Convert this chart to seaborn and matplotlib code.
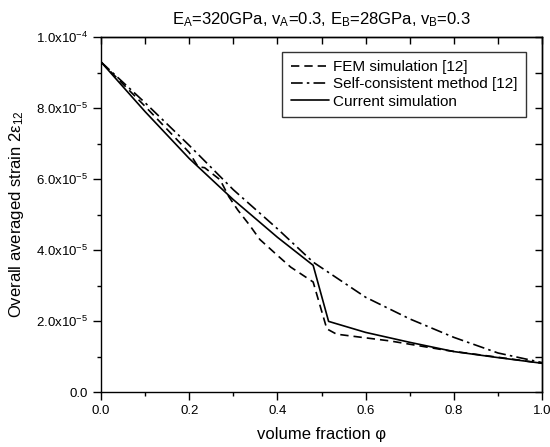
import matplotlib

matplotlib.use("Agg")

import matplotlib.pyplot as plt
import pandas as pd
import seaborn as sns
from matplotlib.ticker import FuncFormatter, MultipleLocator, NullFormatter

# values in units of 1e-6
FEM_X = [0.0, 0.1, 0.2, 0.22, 0.235, 0.27, 0.29, 0.31, 0.337, 0.36, 0.4, 0.43, 0.481,
         0.512, 0.534, 0.655, 0.79, 0.9, 1.0]
FEM_Y = [93.0, 80.5, 67.5, 63.5, 63.2, 59.8, 55.0, 51.3, 47.0, 43.0, 38.5, 35.2, 31.0,
         17.8, 16.3, 14.4, 11.6, 9.8, 8.1]

SC_X = [0.0, 0.1, 0.2, 0.3, 0.4, 0.481, 0.6, 0.7, 0.8, 0.9, 1.0]
SC_Y = [93.0, 81.5, 69.5, 57.0, 46.0, 36.6, 26.7, 20.6, 15.4, 11.0, 8.3]

CUR_X = [0.0, 0.1, 0.2, 0.3, 0.4, 0.481, 0.516, 0.6, 0.7, 0.8, 0.9, 1.0]
CUR_Y = [93.0, 79.0, 65.8, 54.2, 43.6, 35.7, 19.9, 16.8, 14.0, 11.4, 9.7, 8.1]

SERIES = [
    ("FEM simulation [12]", FEM_X, FEM_Y, (0, (5, 3))),
    ("Self-consistent method [12]", SC_X, SC_Y, (0, (7, 2.5, 1.5, 2.5))),
    ("Current simulation", CUR_X, CUR_Y, "-"),
]


def sci_fmt(v, _pos):
    if abs(v) < 1e-12:
        return "0.0"
    exp = int(f"{v:e}".split("e")[1])
    mant = v / 10 ** exp
    return f"{mant:.1f}x10$^{{{exp}}}$"


def main() -> None:
    sns.set_theme(style="ticks")
    plt.rcParams.update(
        {
            "font.family": ["Liberation Sans", "DejaVu Sans"],
            "mathtext.default": "regular",
            "font.size": 9.5,
            "axes.linewidth": 1.0,
            "axes.edgecolor": "black",
            "text.color": "black",
            "axes.labelcolor": "black",
            "xtick.color": "black",
            "ytick.color": "black",
        }
    )

    fig = plt.figure(figsize=(5.5, 4.47), dpi=100)
    ax = fig.add_axes([0.1836, 0.123, 0.802, 0.794])

    for label, xs, ys, ls in SERIES:
        df = pd.DataFrame({"x": xs, "y": [v * 1e-6 for v in ys]})
        sns.lineplot(data=df, x="x", y="y", ax=ax, color="black", linewidth=1.2,
                     linestyle=ls, label=label, sort=False, estimator=None)

    ax.set_xlim(0, 1.0)
    ax.set_ylim(0, 1.0e-4)
    for axis, major, minor in [(ax.xaxis, 0.2, 0.1), (ax.yaxis, 2e-5, 1e-5)]:
        axis.set_major_locator(MultipleLocator(major))
        axis.set_minor_locator(MultipleLocator(minor))
    ax.yaxis.set_major_formatter(FuncFormatter(sci_fmt))
    ax.xaxis.set_major_formatter(FuncFormatter(lambda v, p: f"{v:.1f}"))
    ax.tick_params(which="major", direction="out", length=5.5, width=1.0,
                   labelsize=9.5, color="black", labelcolor="black", pad=4)
    ax.tick_params(which="minor", direction="out", length=3, width=1.0, color="black")

    # mirrored ticks on top/right point into the plot
    top = ax.secondary_xaxis("top")
    top.xaxis.set_major_locator(MultipleLocator(0.1))
    top.xaxis.set_major_formatter(NullFormatter())
    right = ax.secondary_yaxis("right")
    right.yaxis.set_major_locator(MultipleLocator(1e-5))
    right.yaxis.set_major_formatter(NullFormatter())
    for sec in (top, right):
        sec.tick_params(which="major", direction="in", length=5, width=1.0, color="black")
        sec.tick_params(which="minor", length=0)

    ax.set_xlabel("volume fraction φ", fontsize=12, labelpad=7)
    ax.set_ylabel("Overall averaged strain 2ε$_{12}$", fontsize=12, labelpad=7)
    ax.set_title("E$_A$=320GPa, v$_A$=0.3, E$_B$=28GPa, v$_B$=0.3", fontsize=12, pad=9)

    leg = ax.legend(loc="upper right", bbox_to_anchor=(0.964, 0.959), borderaxespad=0,
                    frameon=True, fancybox=False, edgecolor="black", fontsize=11,
                    handlelength=2.5, handletextpad=0.3, borderpad=0.55,
                    labelspacing=0.22)
    leg.get_frame().set_linewidth(1.0)

    fig.savefig("out.png", dpi=100)


if __name__ == "__main__":
    main()
